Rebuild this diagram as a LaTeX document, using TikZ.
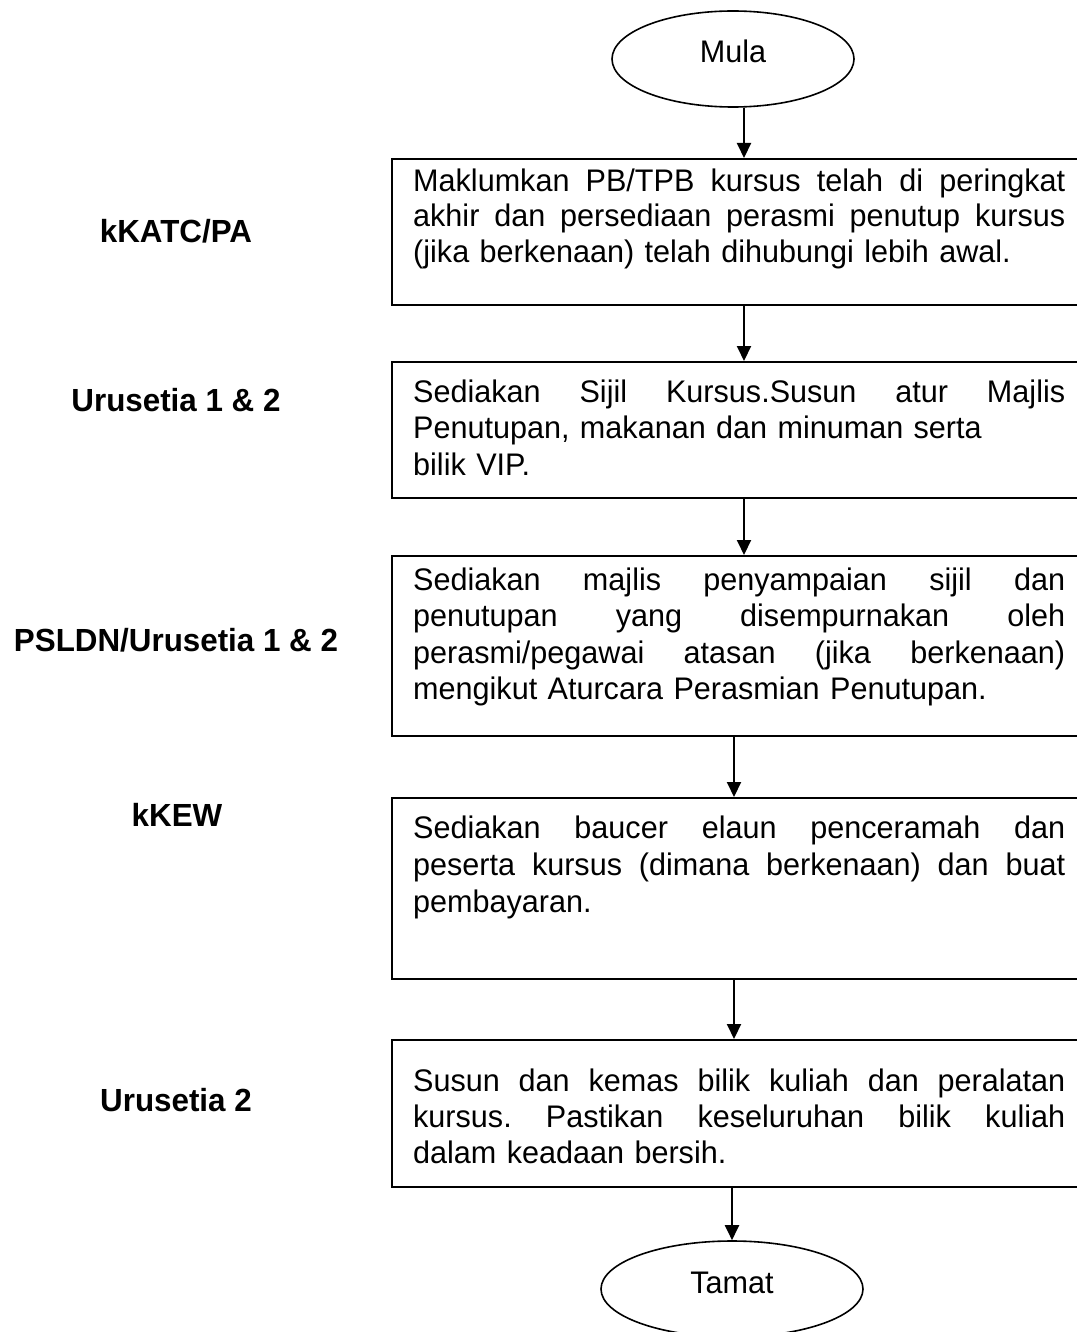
\documentclass[tikz,border=0pt]{standalone}
\usepackage{fontspec}
\setmainfont{Liberation Sans}[FakeStretch=0.98]
\usetikzlibrary{shapes.geometric,arrows.meta}
\begin{document}
\begin{tikzpicture}[x=1pt,y=-1pt,
  every node/.style={font=\fontsize{31.2}{36.5}\selectfont\frenchspacing},
  stepbox/.style={draw, line width=2pt, rectangle, inner sep=0pt, anchor=north west, minimum width=704pt},
  term/.style={draw, line width=1.6pt, ellipse, inner sep=0pt},
  txt/.style={anchor=north west, inner sep=0pt, text width=652pt, align=left},
  role/.style={font=\fontsize{32}{38}\selectfont\bfseries, inner sep=0pt},
  arr/.style={line width=2pt, -{Triangle[length=15pt,width=14pt]}}]
\useasboundingbox (0,0) rectangle (1076,1332);
\newcommand\jl[1]{\leavevmode\hbox to 652pt{\spaceskip=\fontdimen2\font plus 1fil\relax #1}}
% terminals
\node[term, minimum width=242pt, minimum height=96pt, label={[yshift=8pt]center:Mula}] (mula) at (733,59) {};
\node[term, minimum width=262pt, minimum height=96pt, label={[yshift=6pt]center:Tamat}] (tamat) at (732,1289) {};
% step boxes
\node[stepbox, minimum height=146pt] (b1) at (391,158) {};
\node[stepbox, minimum height=136pt] (b2) at (391,361) {};
\node[stepbox, minimum height=180pt] (b3) at (391,555) {};
\node[stepbox, minimum height=181pt] (b4) at (391,797) {};
\node[stepbox, minimum height=147pt] (b5) at (391,1039) {};
% box texts
\node[txt, font=\fontsize{31.2}{35.5}\selectfont\frenchspacing] (t1) at (413,166.15) {\strut\jl{Maklumkan PB/TPB kursus telah di peringkat}\\
\jl{akhir dan persediaan perasmi penutup kursus}\\
(jika berkenaan) telah dihubungi lebih awal.};
\node[txt] (t2) at (413,376.45) {\strut\jl{Sediakan Sijil Kursus.Susun atur Majlis}\\
Penutupan, makanan dan minuman serta\\
bilik VIP.};
\node[txt] (t3) at (413,564.45) {\strut\jl{Sediakan majlis penyampaian sijil dan}\\
\jl{penutupan yang disempurnakan oleh}\\
\jl{perasmi/pegawai atasan (jika berkenaan)}\\
mengikut Aturcara Perasmian Penutupan.};
\node[txt, font=\fontsize{31.2}{37}\selectfont\frenchspacing] (t4) at (413,812.1) {\strut\jl{Sediakan baucer elaun penceramah dan}\\
\jl{peserta kursus (dimana berkenaan) dan buat}\\
pembayaran.};
\node[txt, font=\fontsize{31.2}{36}\selectfont\frenchspacing] (t5) at (413,1065.8) {\strut\jl{Susun dan kemas bilik kuliah dan peralatan}\\
\jl{kursus. Pastikan keseluruhan bilik kuliah}\\
dalam keadaan bersih.};
% role labels
\node[role] (r1) at (176,231) {kKATC/PA};
\node[role] (r2) at (176,400) {Urusetia 1 \& 2};
\node[role] (r3) at (176,640) {PSLDN/Urusetia 1 \& 2};
\node[role] (r4) at (177,815) {kKEW};
\node[role] (r5) at (176,1100) {Urusetia 2};
% connectors
\draw[arr] (mula.south -| b1.north) -- (b1.north);
\draw[arr] (b1.south) -- (b2.north);
\draw[arr] (b2.south) -- (b3.north);
\draw[arr] ([xshift=-10pt]b3.south) -- ([xshift=-10pt]b4.north);
\draw[arr] ([xshift=-10pt]b4.south) -- ([xshift=-10pt]b5.north);
\draw[arr] (b5.south -| tamat.north) -- (tamat.north);
\end{tikzpicture}
\end{document}
